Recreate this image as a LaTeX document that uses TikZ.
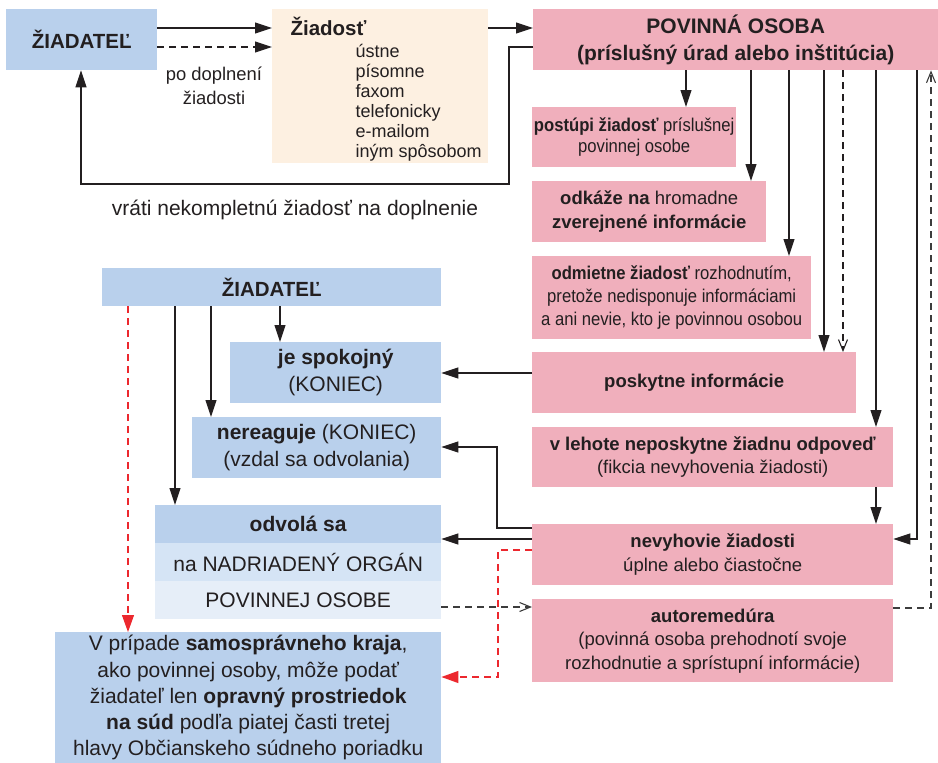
\documentclass[tikz,border=0pt]{standalone}
\usepackage{fontspec}
\setmainfont{Liberation Sans}
\newfontfamily\narrowsans[FakeStretch=0.9]{Liberation Sans}
\usetikzlibrary{arrows.meta}

\definecolor{ink}{RGB}{35,31,32}
\definecolor{bluehead}{RGB}{185,208,236}
\definecolor{bluemid}{RGB}{213,228,245}
\definecolor{bluelight}{RGB}{230,238,248}
\definecolor{beige}{RGB}{253,240,225}
\definecolor{pinkf}{RGB}{240,175,188}
\definecolor{redd}{RGB}{236,40,46}
\definecolor{grayd}{RGB}{60,60,60}

\newcommand\pinksize{\fontsize{18.5}{23.5}\selectfont}
\newcommand\narrowsize{\narrowsans\fontsize{18.5}{21.5}\selectfont}
\newcommand\bluesize{\fontsize{21}{27.5}\selectfont}
\newcommand\headsize{\fontsize{20.5}{26}\selectfont}

\begin{document}
\begin{tikzpicture}[x=1pt, y=-1pt, text=ink,
  box/.style={rectangle, inner sep=0pt, anchor=north west, align=center},
  bluebox/.style={box, fill=bluehead, font=\bluesize},
  pinkbox/.style={box, fill=pinkf, font=\pinksize},
  arr/.style={-{Triangle[length=17pt,width=11pt]}, line width=1.1pt, draw=ink},
  oarr/.style={-{Straight Barb[length=11pt,width=9pt]}, line width=1.1pt},
  dashline/.style={dash pattern=on 7pt off 5pt},
  rarr/.style={-{Triangle[length=17pt,width=12pt]}, line width=1.1pt, draw=redd, dashline}]
\useasboundingbox (0,0) rectangle (938,763);

% top row
\node[bluebox, font=\headsize\bfseries, minimum width=151pt, minimum height=61pt] (zia) at (6,9) {ŽIADATEĽ};
\node[box, fill=beige, minimum width=216pt, minimum height=154pt] (zdst) at (272,9) {};
\node[anchor=base west, font=\headsize\bfseries] (zdtit) at (287,35) {Žiadosť};
\foreach \t [count=\i from 0] in {ústne,písomne,faxom,telefonicky,e-mailom,iným spôsobom}
  \node[anchor=base west, font=\fontsize{18}{20}\selectfont] (zd\i) at (352,57+20*\i) {\t};
\node[pinkbox, font=\bluesize\bfseries, minimum width=405pt, minimum height=61pt] (pov) at (533,9)
  {POVINNÁ OSOBA\\(príslušný úrad alebo inštitúcia)};
\node[align=center, font=\fontsize{18.4}{23.5}\selectfont] (podopl) at (214,86) {po doplnení\\žiadosti};
\node[font=\fontsize{21}{25}\selectfont] (vrati) at (295,210) {vráti nekompletnú žiadosť na doplnenie};

% right column
\node[pinkbox, font=\narrowsize, minimum width=204pt, minimum height=60pt] (post) at (532,107)
  {\textbf{postúpi žiadosť} príslušnej\\povinnej osobe};
\node[pinkbox, minimum width=234pt, minimum height=61pt] (odk) at (532,181)
  {\textbf{odkáže na} hromadne\\\textbf{zverejnené informácie}};
\node[pinkbox, font=\narrowsans\fontsize{18.5}{23}\selectfont, minimum width=279pt, minimum height=83pt] (odm) at (532,256)
  {\textbf{odmietne žiadosť} rozhodnutím,\\pretože nedisponuje informáciami\\a ani nevie, kto je povinnou osobou};
\node[pinkbox, minimum width=324pt, minimum height=61pt] (posk) at (532,352) {\textbf{poskytne informácie}};
\node[pinkbox, minimum width=361pt, minimum height=60pt] (leh) at (532,427)
  {\textbf{v lehote neposkytne žiadnu odpoveď}\\(fikcia nevyhovenia žiadosti)};
\node[pinkbox, minimum width=361pt, minimum height=61pt] (nevy) at (532,524)
  {\textbf{nevyhovie žiadosti}\\úplne alebo čiastočne};
\node[pinkbox, minimum width=361pt, minimum height=83pt] (auto) at (532,599)
  {\textbf{autoremedúra}\\(povinná osoba prehodnotí svoje\\rozhodnutie a sprístupní informácie)};

% left column
\node[bluebox, font=\headsize\bfseries, minimum width=339pt, minimum height=38pt] (zib) at (102,268) {ŽIADATEĽ};
\node[bluebox, minimum width=211pt, minimum height=61pt] (spok) at (230,342) {\textbf{je spokojný}\\(KONIEC)};
\node[bluebox, minimum width=249pt, minimum height=61pt] (nere) at (192,417)
  {\textbf{nereaguje} (KONIEC)\\(vzdal sa odvolania)};
\node[bluebox, minimum width=286pt, minimum height=38pt] (odv) at (155,505) {\textbf{odvolá sa}};
\node[bluebox, fill=bluemid, minimum width=286pt, minimum height=38pt] (nadr) at (155,543) {na NADRIADENÝ ORGÁN};
\node[bluebox, fill=bluelight, minimum width=286pt, minimum height=38pt] (povo) at (155,581) {POVINNEJ OSOBE};
\node[bluebox, font=\fontsize{21}{26.2}\selectfont, minimum width=386pt, minimum height=131pt] (prip) at (55,632)
  {V prípade \textbf{samosprávneho kraja},\\ako povinnej osoby, môže podať\\žiadateľ len \textbf{opravný prostriedok}\\\textbf{na súd} podľa piatej časti tretej\\hlavy Občianskeho súdneho poriadku};

% top connectors
\draw[arr] (zia.east |- 0,28) -- (zdst.west |- 0,28);
\draw[arr, dashline] (zia.east |- 0,47) -- (zdst.west |- 0,47);
\draw[arr] (zdst.east |- 0,28) -- (pov.west |- 0,28);
\draw[arr] (pov.west |- 0,47) -| (509,184) -| (zia.south -| 81,0);

\foreach \x/\t in {686/post, 751/odk, 789/odm, 824/posk, 876/leh}
  \draw[arr] (pov.south -| \x,0) -- (\t.north -| \x,0);
\draw[oarr, dashline, ink] (pov.south -| 843,0) -- (posk.north -| 843,0);
\draw[arr] (pov.south -| 917,0) |- (nevy.east |- 0,539);
\draw[oarr, dashline, grayd] (auto.east |- 0,608) -| (pov.south -| 931,0);
\draw[arr] (leh.south -| 876,0) -- (nevy.north -| 876,0);

% back to the applicant
\draw[arr] (posk.west |- 0,373) -- (spok.east |- 0,373);
\draw[arr] (nevy.west |- 0,528) -- ++(-35,0) |- (nere.east |- 0,447);
\draw[arr] (nevy.west |- 0,539) -- (odv.east |- 0,539);
\draw[rarr] (nevy.west |- 0,550) -- ++(-34,0) |- (prip.east |- 0,677);
\draw[oarr, dashline, grayd] (povo.east |- 0,607) -- (auto.west |- 0,607);

\foreach \x/\t in {280/spok, 211/nere, 175/odv}
  \draw[arr] (zib.south -| \x,0) -- (\t.north -| \x,0);
\draw[rarr] (zib.south -| 128,0) -- (prip.north -| 128,0);

\end{tikzpicture}
\end{document}
